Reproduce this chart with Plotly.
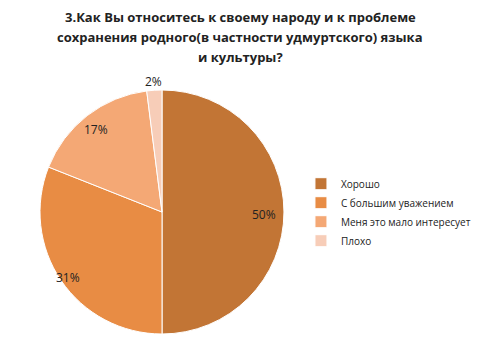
import math
import plotly.graph_objects as go

labels = ["Хорошо", "С большим уважением", "Меня это мало интересует", "Плохо"]
values = [50, 31, 17, 2]
colors = ["#C27535", "#E88C44", "#F4A875", "#F7CDB8"]
label_radius = [0.84, 0.93, 0.88, 1.09]  # fraction of pie radius for each data label

title_lines = ["3.Как Вы относитесь к своему народу и к проблеме",
               "сохранения родного(в частности удмуртского) языка",
               "и культуры?"]

W, H = 480, 360
cx, cy, r = 162, 212, 122  # pie placement in pixels

fig = go.Figure(go.Pie(
    labels=labels, values=values, sort=False, direction="clockwise", rotation=0,
    marker=dict(colors=colors, line=dict(color="white", width=1)),
    textinfo="none",
    domain=dict(x=[(cx - r) / W, (cx + r) / W], y=[1 - (cy + r) / H, 1 - (cy - r) / H]),
    hoverinfo="label+value",
))

# data labels placed at each slice's mid-angle
total = sum(values)
cum = 0
for v, fr in zip(values, label_radius):
    mid = (cum + v / 2) / total * 2 * math.pi
    cum += v
    px = cx + fr * r * math.sin(mid)
    py = cy - fr * r * math.cos(mid) + 2
    fig.add_annotation(x=px / W, y=1 - py / H, xref="paper", yref="paper",
                       xanchor="center", yanchor="middle",
                       text=f"{v}%", showarrow=False,
                       font=dict(family="Open Sans", size=12, color="#222222"))

# chart title, one line per annotation (20 px line pitch)
for i, line in enumerate(title_lines):
    fig.add_annotation(x=0.5, y=1 - (17 + 20 * i) / H, xref="paper", yref="paper",
                       xanchor="center", yanchor="middle", text=f"<b>{line}</b>",
                       showarrow=False,
                       font=dict(family="Open Sans", size=13, color="#222222"))

fig.update_layout(
    width=W, height=H,
    margin=dict(l=0, r=0, t=0, b=0, autoexpand=False),
    paper_bgcolor="white",
    legend=dict(x=0.627, y=0.53, xanchor="left", yanchor="top",
                font=dict(family="Open Sans", size=10, color="#222222"),
                itemwidth=30, tracegroupgap=0),
)

fig.write_html("out.html", post_script="document.body.style.margin='0';",
               config={"displayModeBar": False})
